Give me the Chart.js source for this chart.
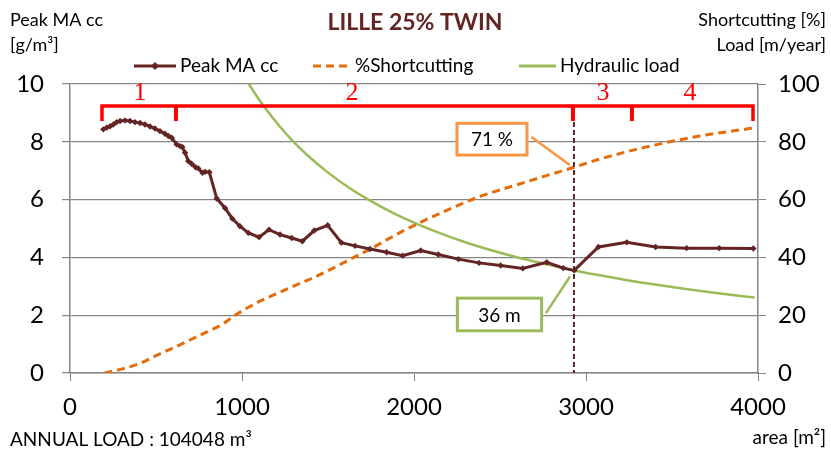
<!DOCTYPE html>
<html>
<head>
<meta charset="utf-8">
<script src="https://cdn.jsdelivr.net/npm/chart.js@4"></script>
<style>
  html, body { margin: 0; padding: 0; background: #fff; }
  #wrap { width: 831px; height: 455px; }
</style>
</head>
<body>
<div id="wrap"><canvas id="lilleChart" width="831" height="455"></canvas></div>
<script>
// area [m2] and Peak MA cc [g/m3]
const peakArea = [194, 213, 233, 252, 271, 291, 320, 349, 378, 407, 436, 465, 494, 523, 552, 572, 591, 620, 640, 653, 669, 688, 707, 730, 746, 770, 785, 810,
    853, 901, 944, 988, 1037, 1099, 1157, 1221, 1289, 1351, 1420, 1498, 1578, 1657, 1744, 1841, 1934, 2039, 2141, 2258, 2378, 2504, 2632, 2772, 2868, 2932,
    3072, 3237, 3405, 3585, 3775, 3973];
const peakMA = [8.43, 8.49, 8.54, 8.60, 8.68, 8.72, 8.74, 8.72, 8.68, 8.65, 8.60, 8.53, 8.46, 8.37, 8.28, 8.20, 8.14, 7.91, 7.85, 7.82, 7.62, 7.33, 7.24, 7.12, 7.08, 6.93, 6.96, 6.95,
    6.04, 5.71, 5.34, 5.08, 4.85, 4.70, 4.96, 4.79, 4.67, 4.56, 4.93, 5.11, 4.51, 4.40, 4.29, 4.18, 4.06, 4.24, 4.10, 3.94, 3.81, 3.72, 3.62, 3.83, 3.63, 3.55,
    4.36, 4.52, 4.36, 4.32, 4.32, 4.31];

// %Shortcutting
const shortArea = [200, 310, 410, 500, 620, 700, 800, 890, 950, 1030, 1120, 1220, 1320, 1430, 1530, 1650, 1740, 1900, 2050, 2210, 2380, 2580, 2770, 2930, 3080, 3280, 3470, 3660, 3860, 3980];
const shortcutting = [0, 1.5, 3.4, 6.0, 9.2, 11.5, 14.3, 17.0, 19.6, 22.5, 25.3, 27.9, 30.6, 33.4, 36.3, 40.0, 42.7, 48.0, 52.5, 56.8, 61.0, 64.8, 68.3, 71.2, 74.0, 77.2, 79.8, 82.0, 83.8, 84.8];

// Hydraulic load [m/year]
const loadArea = [1020, 1080, 1140, 1220, 1300, 1400, 1510, 1620, 1740, 1880, 2020, 2150, 2290, 2430, 2580, 2720, 2870, 2930, 3080, 3240, 3410, 3590, 3780, 3980];
const hydraulicLoad = [102, 96.3, 91.3, 85.3, 80.0, 74.3, 68.9, 64.2, 59.8, 55.3, 51.5, 48.4, 45.4, 42.8, 40.3, 38.3, 36.3, 35.5, 33.8, 32.1, 30.5, 29.0, 27.5, 26.1];

// zones 1..4 (bracket) and chosen area
const zoneEdges = [186, 616, 2924, 3267, 3971];
const zoneLabels = ["1", "2", "3", "4"];
const zoneLabelX = [407, 1640, 3099, 3605];
const chosenArea = 2930;
const chosenShort = 71;
const chosenLoad = 36;

const xTicks = [0, 1000, 2000, 3000, 4000];

const BROWN = "#632523";
const ORANGE = "#E46C0A";
const GREEN = "#9BBB59";
const GRID = "#868686";
const FONT = "Lato";

const pts = (xs, ys) => xs.map((v, i) => ({ x: v, y: ys[i] }));

// bracket: outer frame + inner ticks (null = gap)
const bracketTop = 9.24, bracketFoot = 8.72;
const bracketFrame = [
    { x: zoneEdges[0], y: bracketFoot }, { x: zoneEdges[0], y: bracketTop },
    { x: zoneEdges[4], y: bracketTop }, { x: zoneEdges[4], y: bracketFoot },
];
const bracketTicks = [];
zoneEdges.slice(1, 4).forEach(e => {
    bracketTicks.push({ x: e, y: bracketTop }, { x: e, y: bracketFoot }, { x: e + 1, y: null });
});

const overlay = {
    id: "overlay",
    afterDraw(chart) {
        const { ctx } = chart;
        const { x, y } = chart.scales;
        ctx.save();

        // title
        ctx.fillStyle = BROWN;
        ctx.font = `bold 23px ${FONT}`;
        ctx.textAlign = "center";
        ctx.textBaseline = "middle";
        ctx.fillText("LILLE 25% TWIN", 415, 23);

        // axis titles
        ctx.fillStyle = "#000";
        ctx.font = `18px ${FONT}`;
        ctx.textAlign = "left";
        ctx.fillText("Peak MA cc", 10, 20);
        ctx.fillText("[g/m³]", 10, 45);
        ctx.textAlign = "right";
        ctx.fillText("Shortcutting [%]", 826, 20);
        ctx.fillText("Load [m/year]", 826, 45);
        ctx.font = `19px ${FONT}`;
        ctx.fillText("area [m²]", 826, 438);
        ctx.textAlign = "left";
        ctx.fillText("ANNUAL LOAD : 104048 m³", 10, 440);

        // legend
        const ly = 66;
        ctx.font = `19px ${FONT}`;
        ctx.lineWidth = 3;
        ctx.strokeStyle = BROWN;
        ctx.beginPath(); ctx.moveTo(134, ly); ctx.lineTo(176, ly); ctx.stroke();
        ctx.fillStyle = BROWN;
        ctx.beginPath(); ctx.moveTo(155, ly - 4); ctx.lineTo(159, ly); ctx.lineTo(155, ly + 4); ctx.lineTo(151, ly); ctx.fill();
        ctx.fillStyle = "#000";
        ctx.fillText("Peak MA cc", 180, ly);
        ctx.strokeStyle = ORANGE;
        ctx.setLineDash([8, 5]);
        ctx.beginPath(); ctx.moveTo(313, ly); ctx.lineTo(350, ly); ctx.stroke();
        ctx.setLineDash([]);
        ctx.fillText("%Shortcutting", 355, ly);
        ctx.strokeStyle = GREEN;
        ctx.beginPath(); ctx.moveTo(519, ly); ctx.lineTo(556, ly); ctx.stroke();
        ctx.fillText("Hydraulic load", 560, ly);

        // zone numbers
        ctx.fillStyle = "#FF0000";
        ctx.font = "26px 'Liberation Serif'";
        ctx.textAlign = "center";
        zoneLabels.forEach((t, i) => {
            ctx.fillText(t, x.getPixelForValue(zoneLabelX[i]), y.getPixelForValue(9.67));
        });

        // callouts
        const callout = (x0, x1, y0, y1, fromX, fromY, toX, toY, color, text) => {
            ctx.strokeStyle = color;
            ctx.lineWidth = 2.5;
            ctx.beginPath();
            ctx.moveTo(x.getPixelForValue(fromX), y.getPixelForValue(fromY));
            ctx.lineTo(x.getPixelForValue(toX), y.getPixelForValue(toY));
            ctx.stroke();
            const bx = x.getPixelForValue(x0), by = y.getPixelForValue(y1);
            const bw = x.getPixelForValue(x1) - bx, bh = y.getPixelForValue(y0) - by;
            ctx.fillStyle = "#fff";
            ctx.fillRect(bx, by, bw, bh);
            ctx.lineWidth = 3;
            ctx.strokeRect(bx, by, bw, bh);
            ctx.fillStyle = "#000";
            ctx.font = `19px ${FONT}`;
            ctx.fillText(text, bx + bw / 2, by + bh / 2 + 1);
        };
        callout(2250, 2657, 7.54, 8.64, 2683, 8.17, 2905, 7.2, "#F79646", chosenShort + " %");
        callout(2252, 2742, 1.46, 2.59, 2767, 2.07, 2907, 3.34, GREEN, chosenLoad + " m");

        ctx.restore();
    },
};

new Chart(document.getElementById("lilleChart"), {
    type: "line",
    data: {
        datasets: [
            {
                label: "Peak MA cc",
                data: pts(peakArea, peakMA),
                borderColor: BROWN,
                backgroundColor: BROWN,
                borderWidth: 3,
                pointStyle: "rectRot",
                pointRadius: 3.2,
                pointBorderWidth: 0,
                yAxisID: "y",
                order: 2,
            },
            {
                label: "%Shortcutting",
                data: pts(shortArea, shortcutting),
                borderColor: ORANGE,
                borderWidth: 3,
                borderDash: [8, 5],
                pointRadius: 0,
                cubicInterpolationMode: "monotone",
                yAxisID: "y2",
                order: 3,
            },
            {
                label: "Hydraulic load",
                data: pts(loadArea, hydraulicLoad),
                borderColor: GREEN,
                borderWidth: 2.5,
                pointRadius: 0,
                cubicInterpolationMode: "monotone",
                yAxisID: "y2",
                order: 4,
            },
            {
                label: "chosen",
                data: [{ x: chosenArea, y: bracketTop }, { x: chosenArea, y: 0 }],
                borderColor: BROWN,
                borderWidth: 2,
                borderDash: [5, 3],
                pointRadius: 0,
                yAxisID: "y",
                order: 1,
            },
            {
                label: "zones",
                data: bracketFrame,
                borderColor: "#FF0000",
                borderWidth: 3.5,
                pointRadius: 0,
                yAxisID: "y",
                order: 0,
            },
            {
                label: "zone ticks",
                data: bracketTicks,
                borderColor: "#FF0000",
                borderWidth: 4,
                pointRadius: 0,
                spanGaps: false,
                yAxisID: "y",
                order: 0,
            },
        ],
    },
    options: {
        responsive: false,
        animation: false,
        layout: { padding: { top: 84, left: 0, right: 0, bottom: 0 } },
        plugins: {
            legend: { display: false },
            tooltip: { enabled: false },
        },
        scales: {
            x: {
                type: "linear",
                min: 0,
                max: 4000,
                afterBuildTicks: (s) => { s.ticks = xTicks.map(v => ({ value: v })); },
                afterFit: (s) => { s.height = 82; },
                grid: { drawOnChartArea: false, color: GRID, tickLength: 8 },
                border: { color: GRID, width: 1.5 },
                ticks: {
                    color: "#000",
                    font: { family: FONT, size: 24 },
                    padding: 12,
                    callback: (v) => String(v),
                },
            },
            y: {
                position: "left",
                min: 0,
                max: 10,
                afterFit: (s) => { s.width = 70; },
                grid: { color: GRID, lineWidth: 1.2, tickLength: 8 },
                border: { color: GRID, width: 1.5 },
                ticks: { stepSize: 2, color: "#000", font: { family: FONT, size: 24 }, padding: 18 },
            },
            y2: {
                position: "right",
                min: 0,
                max: 100,
                afterFit: (s) => { s.width = 73; },
                grid: { drawOnChartArea: false, color: GRID, tickLength: 8 },
                border: { color: GRID, width: 1.5 },
                ticks: { stepSize: 20, color: "#000", font: { family: FONT, size: 24 }, padding: 12 },
            },
        },
    },
    plugins: [overlay],
});
</script>
</body>
</html>
